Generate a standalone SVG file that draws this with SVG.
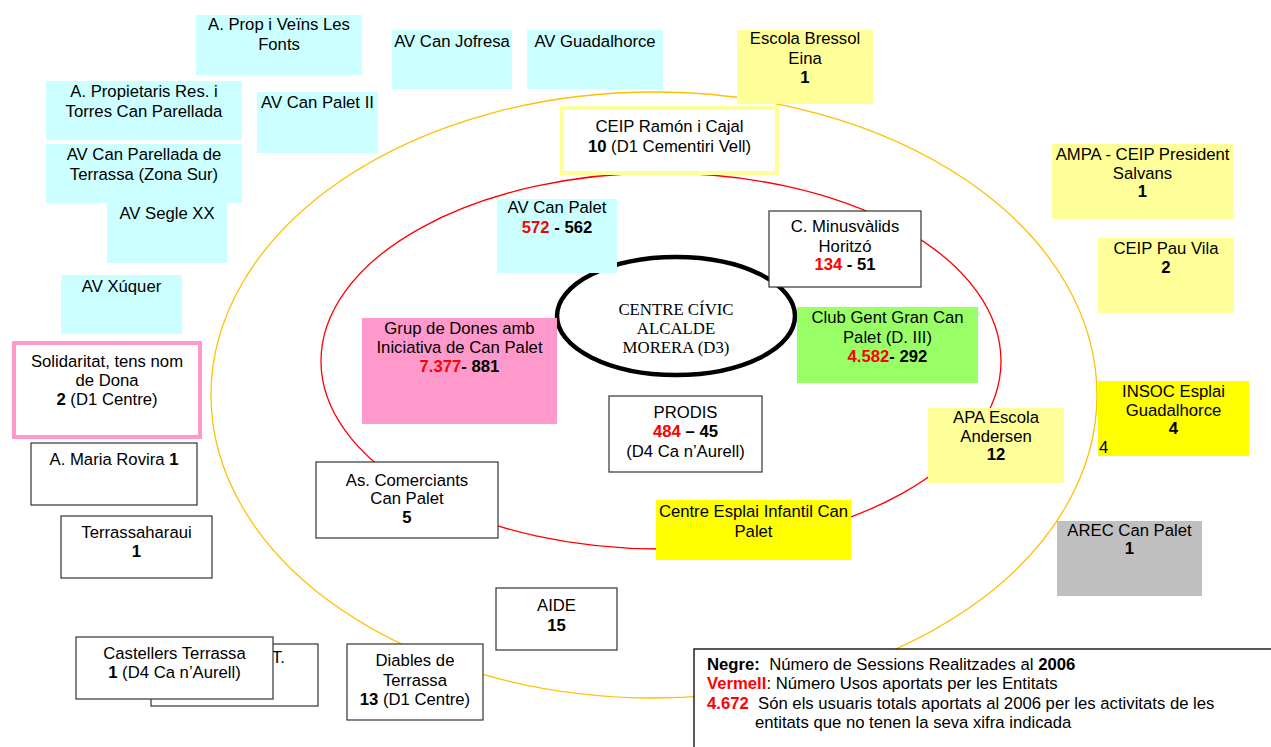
<svg xmlns="http://www.w3.org/2000/svg" width="1271" height="747" viewBox="0 0 1271 747">
<style>
text{font-family:"Liberation Sans",Arial,sans-serif;font-size:16.7px;fill:#000;text-anchor:middle}
.b{font-weight:bold}
.r{fill:#FF0000;font-weight:bold}
.cy{fill:#CCFFFF}
.py{fill:#FFFF99}
.yy{fill:#FFFF00}
.wb{fill:#fff;stroke:#333;stroke-width:1.2}
.lg{text-anchor:start;white-space:pre}
.serif{font-family:"Liberation Serif","Times New Roman",serif;font-size:16.8px}
</style>
<rect width="1271" height="747" fill="#fff"/>
<g id="connectors" fill="none">
<ellipse cx="654" cy="395" rx="443" ry="303" stroke="#FFC000" stroke-width="1.3"/>
<ellipse cx="661" cy="361" rx="340" ry="188" stroke="#FF0000" stroke-width="1.3"/>
</g>
<g id="centre">
<ellipse cx="676" cy="316" rx="119" ry="59" fill="#fff" stroke="#000" stroke-width="4.5"/>
<text class="serif" x="676" y="315">CENTRE CÍVIC</text>
<text class="serif" x="676" y="334">ALCALDE</text>
<text class="serif" x="676" y="353">MORERA (D3)</text>
</g>
<g id="n1"><rect class="cy" x="196" y="15" width="166" height="60"/><text x="279" y="30">A. Prop i Veïns Les</text><text x="279" y="50">Fonts</text></g>
<g id="n2"><rect class="cy" x="46" y="81" width="196" height="59"/><text x="144" y="97">A. Propietaris Res. i</text><text x="144" y="117">Torres Can Parellada</text></g>
<g id="n3"><rect class="cy" x="46" y="144" width="196" height="59"/><text x="144" y="160">AV Can Parellada de</text><text x="144" y="180">Terrassa (Zona Sur)</text></g>
<g id="n4"><rect class="cy" x="107" y="203" width="120" height="60"/><text x="167" y="219">AV Segle XX</text></g>
<g id="n5"><rect class="cy" x="61" y="275" width="121" height="59"/><text x="121.5" y="292">AV Xúquer</text></g>
<g id="n6"><rect class="cy" x="257" y="92" width="121" height="61"/><text x="317.5" y="108">AV Can Palet II</text></g>
<g id="n7"><rect class="cy" x="392" y="30" width="120" height="59"/><text x="452" y="47">AV Can Jofresa</text></g>
<g id="n8"><rect class="cy" x="527" y="30" width="136" height="59"/><text x="595" y="47">AV Guadalhorce</text></g>
<g id="n9"><rect class="cy" x="497" y="199" width="120" height="74"/><text x="557" y="213">AV Can Palet</text><text x="557" y="233"><tspan class="r">572</tspan><tspan class="b"> - 562</tspan></text></g>
<g id="n10"><rect class="py" x="737" y="30" width="136" height="74"/><text x="805" y="44">Escola Bressol</text><text x="805" y="64">Eina</text><text class="b" x="805" y="83">1</text></g>
<g id="n11"><rect x="562" y="108" width="215" height="65" fill="#fff" stroke="#FFFF99" stroke-width="4"/><text x="669.5" y="132">CEIP Ramón i Cajal</text><text x="669.5" y="152"><tspan class="b">10</tspan> (D1 Cementiri Vell)</text></g>
<g id="n12"><rect class="py" x="1052" y="144" width="181" height="75"/><text x="1142.5" y="160">AMPA - CEIP President</text><text x="1142.5" y="179">Salvans</text><text class="b" x="1142.5" y="197">1</text></g>
<g id="n13"><rect class="py" x="1098" y="238" width="136" height="75"/><text x="1166" y="254">CEIP Pau Vila</text><text class="b" x="1166" y="273">2</text></g>
<g id="n14"><rect class="yy" x="1098" y="381" width="151" height="75"/><text x="1173.5" y="397">INSOC Esplai</text><text x="1173.5" y="416">Guadalhorce</text><text class="b" x="1173.5" y="434">4</text><text x="1099" y="453" style="text-anchor:start">4</text></g>
<g id="n15"><rect class="py" x="928" y="408" width="136" height="75"/><text x="996" y="423">APA Escola</text><text x="996" y="442">Andersen</text><text class="b" x="996" y="460">12</text></g>
<g id="n16"><rect x="1057" y="521" width="145" height="75" fill="#C0C0C0"/><text x="1129.5" y="536">AREC Can Palet</text><text class="b" x="1129.5" y="554">1</text></g>
<g id="n17"><rect class="yy" x="656" y="500" width="195" height="60"/><text x="753.5" y="517">Centre Esplai Infantil Can</text><text x="753.5" y="537">Palet</text></g>
<g id="n18"><rect class="wb" x="316" y="462" width="182" height="76"/><text x="407" y="486">As. Comerciants</text><text x="407" y="504">Can Palet</text><text class="b" x="407" y="523">5</text></g>
<g id="n19"><rect class="wb" x="609" y="396" width="153" height="76"/><text x="685.5" y="418">PRODIS</text><text x="685.5" y="437"><tspan class="r">484</tspan><tspan class="b"> – 45</tspan></text><text x="685.5" y="457">(D4 Ca n’Aurell)</text></g>
<g id="n20"><rect class="wb" x="769" y="211" width="152" height="76"/><text x="845" y="232">C. Minusvàlids</text><text x="845" y="252">Horitzó</text><text x="845" y="270"><tspan class="r">134</tspan><tspan class="b"> - 51</tspan></text></g>
<g id="n21"><rect x="797" y="307" width="181" height="76" fill="#99FF66"/><text x="887.5" y="323">Club Gent Gran Can</text><text x="887.5" y="343">Palet (D. III)</text><text x="887.5" y="362"><tspan class="r">4.582</tspan><tspan class="b">- 292</tspan></text></g>
<g id="n22"><rect x="362" y="318" width="195" height="106" fill="#FF99CC"/><text x="459.5" y="334">Grup de Dones amb</text><text x="459.5" y="353">Iniciativa de Can Palet</text><text x="459.5" y="372"><tspan class="r">7.377</tspan><tspan class="b">- 881</tspan></text></g>
<g id="n23"><rect x="14" y="343" width="186" height="94" fill="#fff" stroke="#FF99CC" stroke-width="4"/><text x="107" y="367">Solidaritat, tens nom</text><text x="107" y="386">de Dona</text><text x="107" y="405"><tspan class="b">2</tspan> (D1 Centre)</text></g>
<g id="n24"><rect class="wb" x="31" y="443" width="166" height="62"/><text x="114" y="465">A. Maria Rovira <tspan class="b">1</tspan></text></g>
<g id="n25"><rect class="wb" x="61" y="516" width="151" height="62"/><text x="136.5" y="538">Terrassaharaui</text><text class="b" x="136.5" y="557">1</text></g>
<g id="n26"><rect class="wb" x="151" y="644" width="167" height="62"/><text x="272" y="663" style="text-anchor:start">T.</text></g>
<g id="n27"><rect class="wb" x="76" y="637" width="197" height="62"/><text x="174.5" y="659">Castellers Terrassa</text><text x="174.5" y="678"><tspan class="b">1</tspan> (D4 Ca n’Aurell)</text></g>
<g id="n28"><rect class="wb" x="347" y="644" width="136" height="76"/><text x="415" y="666">Diables de</text><text x="415" y="686">Terrassa</text><text x="415" y="705"><tspan class="b">13</tspan> (D1 Centre)</text></g>
<g id="n29"><rect class="wb" x="496" y="588" width="121" height="62"/><text x="556.5" y="611">AIDE</text><text class="b" x="556.5" y="631">15</text></g>
<g id="legend"><rect x="694" y="649" width="600" height="110" fill="#fff" stroke="#000" stroke-width="1.3"/>
<text class="lg" x="707" y="670" xml:space="preserve"><tspan class="b">Negre:</tspan>  Número de Sessions Realitzades al <tspan class="b">2006</tspan></text>
<text class="lg" x="707" y="689"><tspan class="r">Vermell</tspan>: Número Usos aportats per les Entitats</text>
<text class="lg" x="707" y="709" xml:space="preserve"><tspan class="r">4.672</tspan>  Són els usuaris totals aportats al 2006 per les activitats de les</text>
<text class="lg" x="755" y="728">entitats que no tenen la seva xifra indicada</text>
</g>
</svg>
